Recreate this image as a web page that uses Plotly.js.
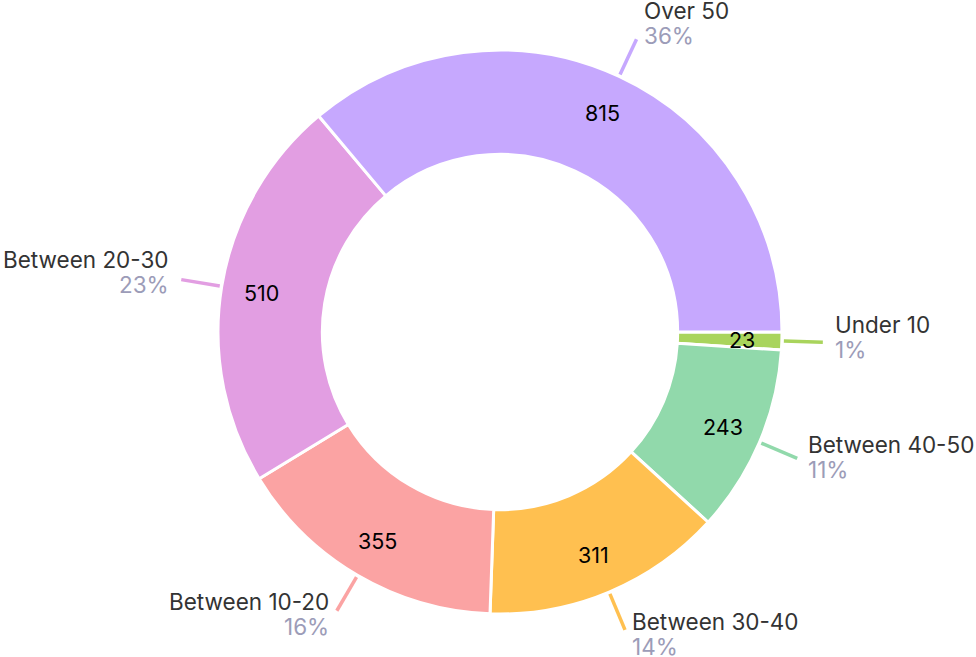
<!DOCTYPE html>
<html><head><meta charset="utf-8">
<script src="https://cdn.plot.ly/plotly-3.0.1.min.js"></script>
<style>html,body{margin:0;padding:0;background:#fff;}#chart{width:976px;height:657px;}</style>
</head><body><div id="chart"></div>
<script>
const categories = ["Under 10", "Between 40-50", "Between 30-40", "Between 10-20", "Between 20-30", "Over 50"];
const values = [23, 243, 311, 355, 510, 815];
const colors = ["#a9d45c", "#91d9ab", "#ffc050", "#fba3a3", "#e29ee2", "#c6a8fe"];

const W = 976, H = 657, CX = 500, CY = 332, R = 282, HOLE = 0.63;
const total = values.reduce((a, b) => a + b, 0);
const px = x => x / W, py = y => 1 - y / H;
const FONT = 'Inter, sans-serif';

const annotations = [], shapes = [];
let cum = 0;
values.forEach((v, i) => {
  const mid = (cum + v / 2) / total;
  cum += v;
  const th = mid * 2 * Math.PI;
  const c = Math.cos(th), s = Math.sin(th);
  // value label in the ring
  const rv = 242;
  annotations.push({xref: 'paper', yref: 'paper', x: px(CX + rv * c), y: py(CY + rv * s),
    text: String(v), showarrow: false, xanchor: 'center', yanchor: 'middle',
    font: {family: FONT, size: 21.5, color: '#000'}});
  // leader line
  const r1 = R + 2, r2 = R + 41;
  const x1 = CX + r1 * c, y1 = CY + r1 * s, x2 = CX + r2 * c, y2 = CY + r2 * s;
  shapes.push({type: 'line', xref: 'paper', yref: 'paper', x0: px(x1), y0: py(y1), x1: px(x2), y1: py(y2),
    line: {color: colors[i], width: 3.5}});
  const right = c >= 0;
  const gap = 4 + 6 * c * c;
  const lx = right ? x2 + gap : x2 - gap;
  const ly = y2 - 18.5 + 11 * s;
  const pct = Math.round(v / total * 100) + '%';
  annotations.push({xref: 'paper', yref: 'paper', x: px(lx), y: py(ly),
    text: categories[i], showarrow: false, xanchor: right ? 'left' : 'right', yanchor: 'middle',
    font: {family: FONT, size: 22.5, color: '#333333'}});
  annotations.push({xref: 'paper', yref: 'paper', x: px(lx), y: py(ly + 25),
    text: pct, showarrow: false, xanchor: right ? 'left' : 'right', yanchor: 'middle',
    font: {family: FONT, size: 22.5, color: '#9c9cb8'}});
});

const trace = {
  type: 'pie', labels: categories, values: values, sort: false, direction: 'clockwise', rotation: 90,
  hole: HOLE, textinfo: 'none', hoverinfo: 'label+value+percent',
  marker: {colors: colors, line: {color: '#ffffff', width: 3}},
  domain: {x: [(CX - R) / W, (CX + R) / W], y: [(H - CY - R) / H, (H - CY + R) / H]}
};
const layout = {width: W, height: H, margin: {l: 0, r: 0, t: 0, b: 0}, showlegend: false,
  paper_bgcolor: '#fff', annotations: annotations, shapes: shapes};
Plotly.newPlot('chart', [trace], layout, {displayModeBar: false, staticPlot: true});
</script></body></html>
